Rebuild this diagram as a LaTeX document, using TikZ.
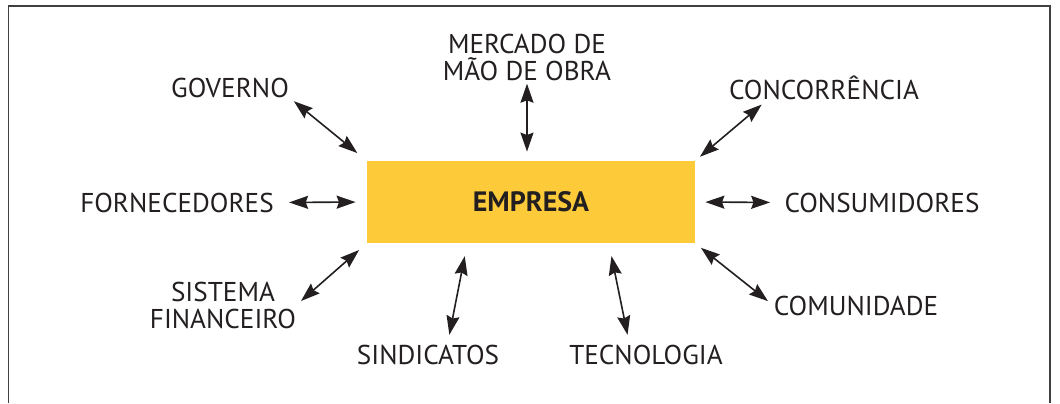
\documentclass[tikz,border=0pt]{standalone}
\usepackage{fontspec}
\setmainfont{PT Sans}
\usepackage{tikz}
\usetikzlibrary{arrows.meta}

\definecolor{amarelo}{HTML}{FDCB3A}
\definecolor{tinta}{HTML}{231F20}

\begin{document}
\begin{tikzpicture}[x=0.5pt,y=-0.5pt]

\tikzstyle{rotulo}=[inner sep=0pt,text=tinta,text height=9.5pt,text depth=0pt,anchor=base]
\tikzstyle{bloco}=[inner sep=0pt,text=tinta,align=center,anchor=base]
\tikzstyle{empresa}=[fill=amarelo,inner sep=0pt,minimum width=164pt,minimum height=41pt,
  text=tinta,font=\bfseries]
\tikzstyle{seta}=[{Stealth[length=9.5pt,width=6.5pt,inset=1.2pt]}-{Stealth[length=9.5pt,width=6.5pt,inset=1.2pt]},
  line width=0.8pt,draw=tinta]

\fontsize{13.6}{13.5}\selectfont

\useasboundingbox (0,0) rectangle (1060,403);

%% Draw frame
\draw[black!75,line width=0.7pt] (8.5,403) -- (8.5,6) -- (1050,6) -- (1050,403);

%% Draw center box
\node[empresa] (emp) at (531,202) {\fontsize{14}{14}\selectfont EMPRESA};

%% Draw labels
\node[rotulo] (gov) at (230,97) {GOVERNO};
\node[bloco] (mdo) at (527,80) {MERCADO DE\\MÃO DE OBRA};
\node[rotulo] (con) at (824,99) {CONCORRÊNCIA};
\node[rotulo] (forn) at (177,212) {FORNECEDORES};
\node[rotulo] (cons) at (882,212) {CONSUMIDORES};
\node[bloco] (sis) at (223,328) {SISTEMA\\FINANCEIRO};
\node[rotulo] (com) at (856,315) {COMUNIDADE};
\node[rotulo] (sin) at (428,364) {SINDICATOS};
\node[rotulo] (tec) at (646,364) {TECNOLOGIA};

%% Draw arrows
\draw[seta, shorten <=3pt, shorten >=6pt] (gov.south east) -- (emp.north west);
\draw[seta, shorten <=1.5pt, shorten >=4.5pt] (mdo.south) -- (mdo.south |- emp.north);
\draw[seta, shorten <=4pt, shorten >=3pt] (con.190) -- (emp.north east);
\draw[seta, shorten <=7.5pt, shorten >=5.5pt] (forn.east) -- (emp.west);
\draw[seta, shorten <=5pt, shorten >=7pt] (emp.east) -- (cons.west);
\draw[seta, shorten <=3pt, shorten >=5pt] (sis.east) -- (emp.south west);
\draw[seta, shorten <=3.5pt, shorten >=3.5pt] (emp.south east) -- (com.west);
\draw[seta, shorten <=6.5pt, shorten >=5pt] (emp.213) -- (sin.27);
\draw[seta, shorten <=6.5pt, shorten >=5pt] (emp.-28) -- (tec.149);

\end{tikzpicture}
\end{document}
